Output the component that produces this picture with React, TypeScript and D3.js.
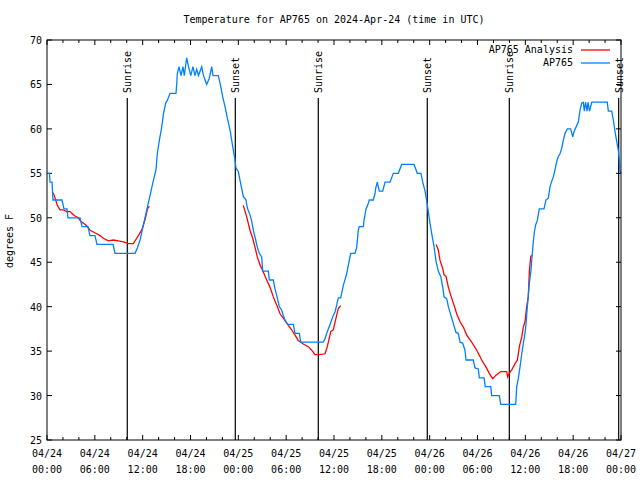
import React from "react";
import * as d3 from "d3";

// Hours since 2024-04-24 00:00 UTC and temperature (°F), station AP765
const obsHours = [
  0.0, 0.31, 0.38, 0.63, 0.75, 1.88, 2.13, 2.51, 2.63, 4.14, 4.39, 5.14, 5.39, 6.02, 6.27, 8.28, 8.53, 11.04,
  11.29, 11.67, 11.92, 12.17, 12.42, 12.67, 12.92, 13.17, 13.42, 13.67, 13.84, 14.09, 14.39, 14.59, 14.89, 15.09,
  15.43, 16.18, 16.27, 16.34, 16.56, 16.81, 17.06, 17.22, 17.52, 17.75, 18.03, 18.31, 18.56, 18.78, 19.0, 19.41,
  19.63, 20.03, 20.36, 20.66, 20.82, 21.49, 21.79, 22.04, 22.33, 22.62, 22.96, 23.17, 23.37, 23.58, 23.71, 24.0,
  24.21, 24.42, 24.62, 24.96, 25.13, 25.47, 25.68, 25.88, 26.18, 26.38, 26.63, 26.93, 27.06, 27.76, 27.89, 28.39,
  28.6, 28.89, 29.14, 29.44, 29.64, 29.85, 30.19, 30.9, 31.11, 31.65, 31.82, 34.66, 34.87, 35.09, 35.5, 35.91,
  36.13, 36.34, 36.54, 36.84, 37.17, 37.59, 37.8, 38.1, 38.63, 38.85, 39.05, 39.17, 39.68, 39.76, 40.02, 40.3,
  40.43, 40.93, 41.14, 41.23, 41.43, 41.68, 42.11, 42.4, 43.03, 43.44, 44.07, 44.49, 46.04, 46.45, 46.91, 47.13,
  47.42, 47.63, 47.83, 48.04, 48.26, 48.54, 48.8, 49.08, 49.39, 49.64, 49.8, 50.14, 50.34, 50.64, 50.97, 51.3,
  51.59, 51.81, 52.14, 52.43, 52.56, 53.47, 53.69, 54.1, 54.23, 54.82, 54.98, 55.66, 55.78, 56.74, 56.91, 58.79,
  58.92, 59.12, 59.33, 59.55, 59.75, 59.96, 60.09, 60.25, 60.5, 60.71, 60.8, 61.0, 61.13, 61.3, 61.5, 61.75,
  62.34, 62.59, 62.88, 63.1, 63.31, 63.51, 63.72, 63.93, 64.14, 64.35, 64.56, 64.76, 64.98, 65.27, 65.69, 65.94,
  66.11, 66.36, 66.65, 66.86, 67.07, 67.27, 67.4, 67.55, 67.74, 67.86, 68.05, 68.33, 70.28, 70.41, 70.84, 71.04,
  71.25, 71.46, 71.66, 71.79, 71.87, 72.0,
];
const obsTemps = [
  55, 55, 54, 54, 52, 52, 51, 51, 50, 50, 49, 49, 48, 48, 47, 47, 46, 46,
  46.5, 47.5, 48.5, 49.5, 50.5, 51.5, 52.5, 53.5, 54.5, 55.4, 57.2, 58.7, 60.2, 61.6, 62.9, 63.2,
  64, 64, 65, 66.2, 67, 66, 67, 66, 68, 67, 66, 67, 66, 66.7, 66, 67,
  66, 65, 65.7, 67, 66, 66, 64.8, 63.6, 62.5, 61.2, 59.9, 58.7, 57.6, 56.5, 55.6, 55.2,
  54.2, 53.3, 52.4, 52, 51.1, 50.3, 49.6, 48.6, 47.5, 46.7, 46, 45.6, 44, 44, 43, 43,
  42, 41, 40, 39.6, 39, 38.5, 38, 38, 37, 37, 36, 36, 36.4, 37, 38, 39,
  39.4, 40.2, 41, 41, 42.4, 43.7, 44.7, 46, 46, 46.7, 48.6, 49, 49, 49.7, 51, 51.6,
  52, 52, 52.7, 53.3, 54, 53, 53, 54, 54, 55, 55, 56, 56, 55, 55, 54,
  53, 51.9, 50.7, 49.4, 48.2, 46.8, 45.1, 44, 43.4, 42.2, 41.1, 40.9, 40, 39.1, 38.1, 37.1,
  37, 36, 35.9, 35.1, 34, 34, 33.1, 33, 32, 32, 31, 31, 30, 30, 29, 29,
  31, 31.9, 33.2, 34.7, 35.9, 37, 38.1, 40, 42.6, 44.1, 45.2, 47.3, 48.4, 49.2, 49.7, 51,
  51, 52, 52.2, 53.5, 54.1, 54.6, 55.4, 56.3, 56.9, 57.2, 57.8, 58.7, 59.5, 60, 60, 59.1,
  59.7, 60.2, 60.8, 62.1, 62.9, 63, 62, 63, 62, 63, 62, 63, 63, 62, 62, 61,
  59.7, 58.6, 57.6, 56.5, 55.2, 55,
];

// Analysis series (NaN marks a gap)
const anaHours = [
  0.66, 0.88, 1.09, 1.29, 1.63, 2.04, 2.47, 2.89, 3.1, 3.51, 3.93, 4.23, 4.55, 4.98, 5.39, 5.81, 6.23, 6.65,
  7.06, 7.69, 8.32, 8.94, 9.57, 10.2, 10.83, 11.25, 11.54, 11.79, 11.95, 12.3, 12.61, 12.83,
  NaN,
  24.62, 25.05, 25.46, 25.8, 26.09, 26.38, 26.72, 27.13, 27.56, 27.97, 28.39, 28.81, 29.23, 29.73, 30.27, 30.69,
  31.11, 31.52, 32.15, 32.78, 33.2, 33.62, 34.16, 34.87, 35.16, 35.59, 35.91, 36.25, 36.54, 36.84,
  NaN,
  48.8, 49.08, 49.3, 49.64, 49.8, 50.05, 50.34, 50.64, 50.97, 51.39, 51.81, 52.22, 52.65, 53.27, 53.9, 54.53,
  55.07, 55.48, 55.91, 56.32, 56.91, 57.66, 57.79, 57.96, 58.3, 58.71, 59.0, 59.25, 59.55, 59.75, 59.96, 60.17,
  60.37, 60.5, 60.67, 60.8,
];
const anaTemps = [
  52.9, 52.6, 52, 51.4, 50.9, 50.9, 50.7, 50.7, 50.5, 50.2, 50, 49.6, 49.4, 49.1, 48.6, 48.4, 48.2, 48,
  47.7, 47.4, 47.5, 47.4, 47.3, 47.1, 47.1, 47.7, 48.1, 48.5, 48.8, 49.8, 51, 51.3,
  NaN,
  51.4, 50.1, 48.6, 47.7, 46.7, 45.6, 44.7, 43.9, 43, 42.2, 41.1, 40.2, 39.2, 38.6, 37.9, 37.4,
  36.8, 36.2, 35.8, 35.5, 35.1, 34.6, 34.6, 34.7, 35.5, 37.2, 37.4, 38.7, 39.8, 40.1,
  NaN,
  47, 46.4, 45.2, 44.3, 43.6, 43.4, 42.2, 41.3, 40.4, 39.2, 38.3, 37.7, 36.8, 36, 35.1, 34,
  33.2, 32.5, 31.9, 32.3, 32.7, 32.7, 32.1, 32.5, 32.9, 33.6, 34, 35.5, 36.6, 37.7, 38.3, 40,
  41.1, 43.9, 45.6, 45.8,
];

const sunHours = [10.07, 23.62, 34.03, 47.7, 57.99, 71.71];
const sunLabels = ["Sunrise", "Sunset", "Sunrise", "Sunset", "Sunrise", "Sunset"];

const yTicks = [25, 30, 35, 40, 45, 50, 55, 60, 65, 70];
const legendLabels = ["AP765 Analysis", "AP765"];
const seriesColors = ["#ff0000", "#0080ff"];

const W = 640;
const H = 480;
const FONT = "'DejaVu Sans Mono', 'Liberation Mono', monospace";

export default function App() {
  const left = 47, right = 621, top = 40, bottom = 440;
  const x = d3.scaleLinear().domain([0, 72]).range([left, right]);
  const y = d3.scaleLinear().domain([25, 70]).range([bottom, top]);

  const start = Date.UTC(2024, 3, 24);
  const fDate = d3.utcFormat("%m/%d");
  const fTime = d3.utcFormat("%H:%M");
  const majorX = d3.range(0, 73, 6);
  const minorX = d3.range(0, 73, 2).filter((h) => h % 6 !== 0);

  const obsLine = d3
    .line<number>()
    .x((i) => x(obsHours[i]))
    .y((i) => y(obsTemps[i]))(d3.range(obsHours.length)) as string;
  const anaLine = d3
    .line<number>()
    .defined((i) => !isNaN(anaTemps[i]))
    .x((i) => x(anaHours[i]))
    .y((i) => y(anaTemps[i]))(d3.range(anaHours.length)) as string;

  const txt = { fontFamily: FONT, fontSize: 10, fill: "#000" } as const;

  return (
    <svg width={W} height={H} style={{ position: "absolute", left: 0, top: 0, background: "#fff" }}>
      <rect x={0} y={0} width={W} height={H} fill="#fff" />
      <text x={334} y={23} textAnchor="middle" {...txt}>
        Temperature for AP765 on 2024-Apr-24 (time in UTC)
      </text>
      <text transform={`translate(13,241) rotate(-90)`} textAnchor="middle" {...txt}>
        degrees F
      </text>

      {/* y ticks */}
      {yTicks.map((t) => (
        <g key={"y" + t}>
          <line x1={left} x2={left + 5} y1={y(t)} y2={y(t)} stroke="#000" />
          <line x1={right - 5} x2={right} y1={y(t)} y2={y(t)} stroke="#000" />
          <text x={42} y={y(t) + 4} textAnchor="end" {...txt}>
            {t}
          </text>
        </g>
      ))}

      {/* x ticks */}
      {minorX.map((h) => (
        <g key={"mx" + h}>
          <line x1={x(h)} x2={x(h)} y1={bottom} y2={bottom - 3} stroke="#000" />
          <line x1={x(h)} x2={x(h)} y1={top} y2={top + 3} stroke="#000" />
        </g>
      ))}
      {majorX.map((h) => {
        const d = new Date(start + h * 3600e3);
        return (
          <g key={"x" + h}>
            <line x1={x(h)} x2={x(h)} y1={bottom} y2={bottom - 5} stroke="#000" />
            <line x1={x(h)} x2={x(h)} y1={top} y2={top + 5} stroke="#000" />
            <text x={x(h)} y={457} textAnchor="middle" {...txt}>
              {fDate(d)}
            </text>
            <text x={x(h)} y={473} textAnchor="middle" {...txt}>
              {fTime(d)}
            </text>
          </g>
        );
      })}

      {/* sunrise / sunset */}
      {sunHours.map((h, i) => (
        <g key={"s" + i}>
          <line x1={x(h)} x2={x(h)} y1={98} y2={bottom} stroke="#000" strokeWidth={1.2} />
          <text transform={`translate(${x(h) + 4},93) rotate(-90)`} textAnchor="start" {...txt}>
            {sunLabels[i]}
          </text>
        </g>
      ))}

      <path d={anaLine} fill="none" stroke={seriesColors[0]} strokeWidth={1.3} />
      <path d={obsLine} fill="none" stroke={seriesColors[1]} strokeWidth={1.3} />

      {/* legend */}
      {legendLabels.map((l, i) => (
        <g key={"l" + i}>
          <text x={573} y={53 + i * 13} textAnchor="end" {...txt}>
            {l}
          </text>
          <line x1={581} x2={610} y1={50 + i * 13} y2={50 + i * 13} stroke={seriesColors[i]} strokeWidth={1.3} />
        </g>
      ))}

      <rect x={left} y={top} width={right - left} height={bottom - top} fill="none" stroke="#000" strokeWidth={1} />
    </svg>
  );
}
